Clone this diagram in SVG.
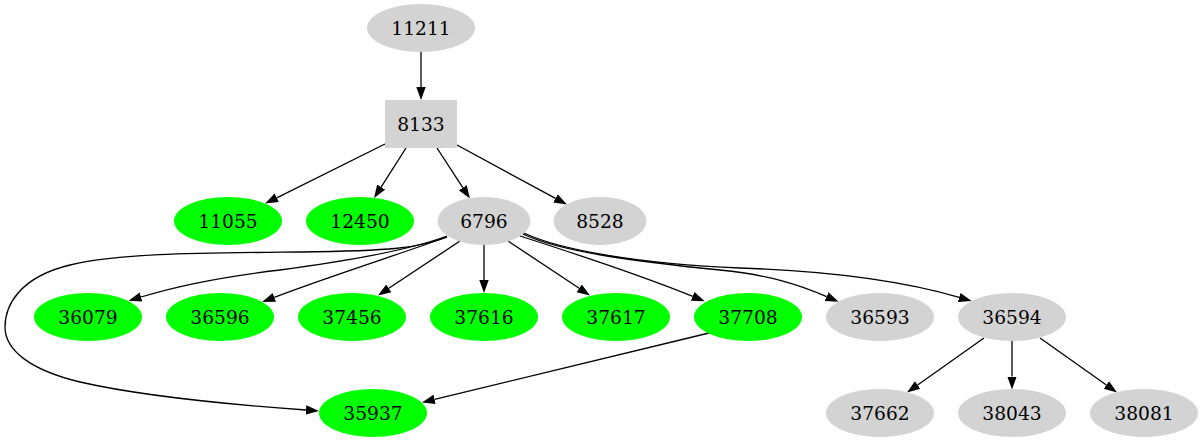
<svg xmlns="http://www.w3.org/2000/svg" width="1203" height="443" viewBox="0 0 1203 443">
<style>
.g{fill:#d3d3d3}
.v{fill:#00ff00}
text{font-family:"DejaVu Serif","Liberation Serif",serif;font-size:18.67px;fill:#000;text-anchor:middle}
.e path{fill:none;stroke:#000;stroke-width:1.3}
</style>
<defs>
<marker id="ah" markerUnits="userSpaceOnUse" markerWidth="14" markerHeight="11" viewBox="0 0 14 11" refX="0" refY="5.5" orient="auto">
<path d="M0,0.8 L13,5.5 L0,10.2 z" fill="#000"/>
</marker>
</defs>
<rect width="1203" height="443" fill="#fff"/>
<g class="e">
<path d="M421,52 L421,87" marker-end="url(#ah)"/>
<path d="M385,144 L276.7,197.8" marker-end="url(#ah)"/>
<path d="M406,148 L381.1,187.1" marker-end="url(#ah)"/>
<path d="M437,148 L462.8,187.7" marker-end="url(#ah)"/>
<path d="M457,145 L555.5,198.4" marker-end="url(#ah)"/>
<path d="M447,236 C410,250 340,262 280,270 C220,277 180,285 141,297" marker-end="url(#ah)"/>
<path d="M447,237 C400,254 330,276 274.3,297.3" marker-end="url(#ah)"/>
<path d="M460,241 L388.8,288.3" marker-end="url(#ah)"/>
<path d="M484,245 L484,280" marker-end="url(#ah)"/>
<path d="M508,241 L579.2,288.3" marker-end="url(#ah)"/>
<path d="M520,236 C570,252 640,275 692.7,296.4" marker-end="url(#ah)"/>
<path d="M523,234 C560,252 640,262 720,270 C770,275 800,285 826.6,296.6" marker-end="url(#ah)"/>
<path d="M524,233 C560,250 640,264 740,268 C830,271 900,280 959.2,297.4" marker-end="url(#ah)"/>
<path d="M447,237 C420,248 390,251 300,252 C200,253 120,253 70,265 C20,277 5,305 5,327 C5,350 30,370 80,382 C150,398 250,406 306,410" marker-end="url(#ah)"/>
<path d="M709,333 L434.6,399.4" marker-end="url(#ah)"/>
<path d="M984,338 L917.6,385" marker-end="url(#ah)"/>
<path d="M1012,341 L1012,376.5" marker-end="url(#ah)"/>
<path d="M1040,338 L1106.4,385" marker-end="url(#ah)"/>
</g>
<g id="n11211"><ellipse class="g" cx="421" cy="28" rx="54" ry="24"/><text x="421" y="35">11211</text></g>
<g id="n8133"><rect class="g" x="385" y="100" width="72" height="48"/><text x="421" y="131">8133</text></g>
<g id="n11055"><ellipse class="v" cx="228" cy="221" rx="54" ry="24"/><text x="228" y="228">11055</text></g>
<g id="n12450"><ellipse class="v" cx="360" cy="221" rx="54" ry="24"/><text x="360" y="228">12450</text></g>
<g id="n6796"><ellipse class="g" cx="484" cy="221" rx="46.5" ry="24"/><text x="484" y="228">6796</text></g>
<g id="n8528"><ellipse class="g" cx="600" cy="221" rx="46.5" ry="24"/><text x="600" y="228">8528</text></g>
<g id="n36079"><ellipse class="v" cx="88" cy="317" rx="54" ry="24"/><text x="88" y="324">36079</text></g>
<g id="n36596"><ellipse class="v" cx="220" cy="317" rx="54" ry="24"/><text x="220" y="324">36596</text></g>
<g id="n37456"><ellipse class="v" cx="352" cy="317" rx="54" ry="24"/><text x="352" y="324">37456</text></g>
<g id="n37616"><ellipse class="v" cx="484" cy="317" rx="54" ry="24"/><text x="484" y="324">37616</text></g>
<g id="n37617"><ellipse class="v" cx="616" cy="317" rx="54" ry="24"/><text x="616" y="324">37617</text></g>
<g id="n37708"><ellipse class="v" cx="748" cy="317" rx="54" ry="24"/><text x="748" y="324">37708</text></g>
<g id="n36593"><ellipse class="g" cx="880" cy="317" rx="54" ry="24"/><text x="880" y="324">36593</text></g>
<g id="n36594"><ellipse class="g" cx="1012" cy="317" rx="54" ry="24"/><text x="1012" y="324">36594</text></g>
<g id="n35937"><ellipse class="v" cx="373" cy="413" rx="54" ry="24"/><text x="373" y="420">35937</text></g>
<g id="n37662"><ellipse class="g" cx="880" cy="413" rx="54" ry="24"/><text x="880" y="420">37662</text></g>
<g id="n38043"><ellipse class="g" cx="1012" cy="413" rx="54" ry="24"/><text x="1012" y="420">38043</text></g>
<g id="n38081"><ellipse class="g" cx="1144" cy="413" rx="54" ry="24"/><text x="1144" y="420">38081</text></g>
</svg>
